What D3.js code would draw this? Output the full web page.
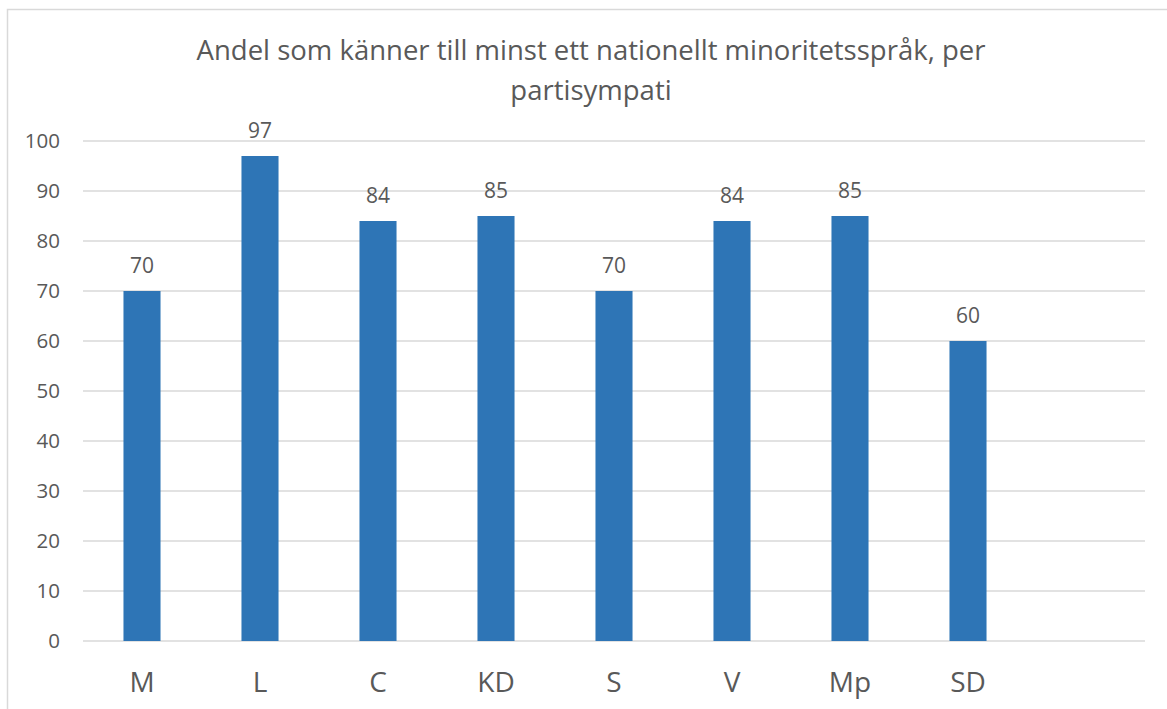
<!DOCTYPE html>
<html>
<head>
<meta charset="utf-8">
<script src="https://cdn.jsdelivr.net/npm/d3@7"></script>
<style>
  body { margin: 0; background: #fff; }
  text { font-family: "Open Sans", "Noto Sans", sans-serif; fill: #595959; }
</style>
</head>
<body>
<div id="c"></div>
<script>
"use strict";

// chart data
const titleLines = ["Andel som känner till minst ett nationellt minoritetsspråk, per", "partisympati"]
const parties = ["M", "L", "C", "KD", "S", "V", "Mp", "SD", ""]
const shares = [70, 97, 84, 85, 70, 84, 85, 60]
const yTicks = [0, 10, 20, 30, 40, 50, 60, 70, 80, 90, 100]

const W = 1167, H = 709
const margin = { top: 141, right: 22, bottom: 68, left: 83 }
const width = W - margin.left - margin.right
const height = H - margin.top - margin.bottom

let svg = d3.select('#c').append('svg')
    .attr('width', W)
    .attr('height', H)

// outer chart border
svg.append('rect')
    .attr('x', 7.5).attr('y', 9.5)
    .attr('width', W + 20).attr('height', H + 20)
    .attr('fill', 'none')
    .attr('stroke', '#d9d9d9')
    .attr('stroke-width', 1.5)

svg.append('text')
    .attr('text-anchor', 'middle')
    .style('font-size', '27.5px')
    .selectAll('tspan')
    .data(titleLines)
    .enter()
    .append('tspan')
        .attr('x', 591)
        .attr('y', (d, i) => 60 + i * 40)
        .text(d => d)

let g = svg.append('g')
    .attr('transform', "translate(" + margin.left + "," + margin.top + ")")

let xScale = d3.scaleBand()
    .domain(parties)
    .range([0, width])
    .paddingInner(0.686)
    .paddingOuter(0.343)

let yScale = d3.scaleLinear()
    .domain([0, 100])
    .range([height, 0])

// gridlines
g.append('g')
    .selectAll('line')
    .data(yTicks)
    .enter()
    .append('line')
        .attr('x1', 0).attr('x2', width)
        .attr('y1', d => yScale(d)).attr('y2', d => yScale(d))
        .attr('stroke', '#d9d9d9')
        .attr('stroke-width', 1.5)

let yAxis = g.append('g')
    .call(d3.axisLeft(yScale).tickValues(yTicks).tickSize(0).tickPadding(23))
yAxis.select('.domain').remove()
yAxis.selectAll('text')
    .style('font-size', '20.5px')
    .attr('fill', '#595959')

let xAxis = g.append('g')
    .attr('transform', 'translate(0,' + height + ')')
    .call(d3.axisBottom(xScale).tickSize(0).tickPadding(31))
xAxis.select('.domain').remove()
xAxis.selectAll('text')
    .style('font-size', '28px')
    .attr('fill', '#595959')

let data = shares.map((v, i) => ({ party: parties[i], value: v }))

g.append('g')
    .selectAll('rect')
    .data(data)
    .enter()
    .append('rect')
        .attr('x', d => xScale(d.party))
        .attr('y', d => yScale(d.value))
        .attr('width', xScale.bandwidth())
        .attr('height', d => height - yScale(d.value))
        .attr('fill', '#2e75b6')

g.append('g')
    .selectAll('text')
    .data(data)
    .enter()
    .append('text')
        .attr('x', d => xScale(d.party) + xScale.bandwidth() / 2)
        .attr('y', d => yScale(d.value) - 18)
        .attr('text-anchor', 'middle')
        .style('font-size', '21px')
        .text(d => d.value)
</script>
</body>
</html>
